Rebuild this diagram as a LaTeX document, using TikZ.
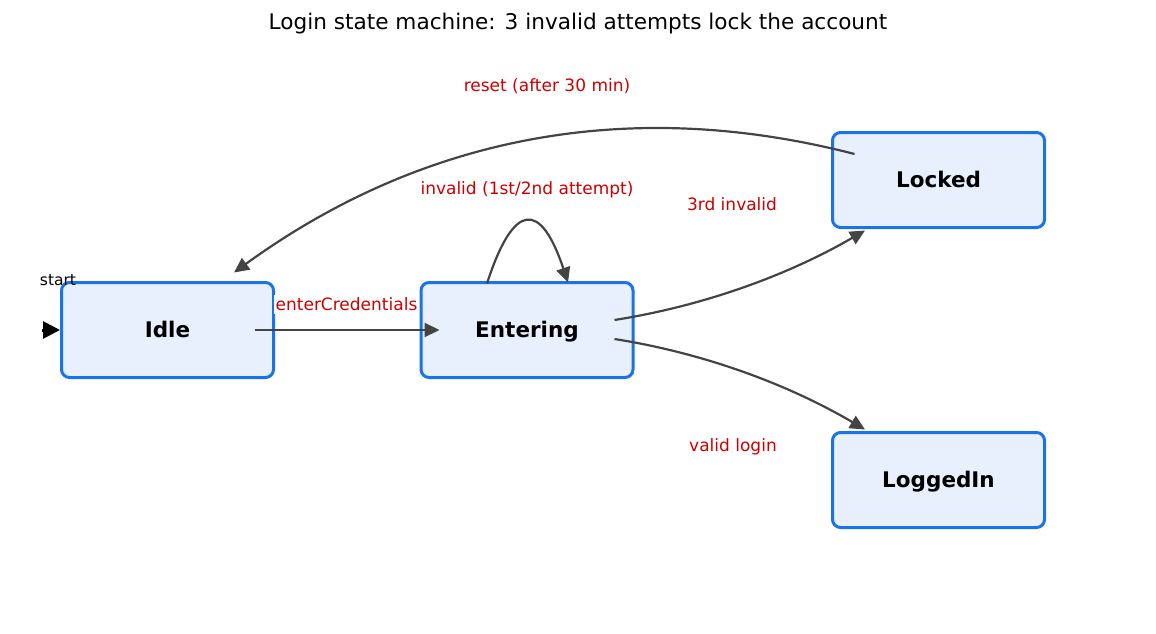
\documentclass[tikz,border=0pt]{standalone}
\usepackage{fontspec}
\setmainfont{DejaVu Sans}
\usetikzlibrary{arrows.meta}
\definecolor{boxblue}{HTML}{1A73E8}
\definecolor{boxfill}{HTML}{E8F0FE}
\definecolor{edgegray}{HTML}{444444}
\definecolor{labelred}{HTML}{CC0000}
\tikzset{
  state/.style={draw=boxblue, fill=boxfill, line width=3pt, rounded corners=8pt,
    minimum width=212pt, minimum height=95pt, inner sep=0pt,
    font=\fontsize{21.5}{26}\selectfont\bfseries, text height=15.7pt, text depth=0pt},
  edge/.style={draw=edgegray, line width=2.2pt, -{Triangle[length=15pt,width=14pt]}},
  elabel/.style={text=labelred, font=\fontsize{17}{20}\selectfont, anchor=base, inner sep=0pt},
  titlelabel/.style={font=\fontsize{21.6}{26}\selectfont, anchor=base, inner sep=0pt},
}
\begin{document}
\begin{tikzpicture}[x=1pt,y=-1pt]
\useasboundingbox (0,0) rectangle (1156,634);
% title
\node[titlelabel] (title) at (578,30) {Login state machine: 3 invalid attempts lock the account};
% states
\node[state] (idle) at (167.5,330) {Idle};
\node[state] (entering) at (527,330) {Entering};
\node[state] (locked) at (938.5,180) {Locked};
\node[state] (loggedin) at (938.5,480) {LoggedIn};
% start
\coordinate (startpt) at (42,330);
\draw[line width=3pt, -{Triangle[length=17pt,width=17pt]}] (startpt) -- (idle.west);
\node[font=\fontsize{15.5}{18}\selectfont, anchor=base, inner sep=0pt] (startlabel) at (58,285.5) {start};
% edges
\draw[edge] ([xshift=-20.5]idle.east) -- ([xshift=20]entering.west);
\draw[edge] ([shift={(-40,2.5)}]entering.north) .. controls (513.7,201) and (540.7,200.7) .. ([shift={(41,1.5)}]entering.north);
\draw[edge] ([shift={(-20,-10)}]entering.east) .. controls (703,306) and (787,275.7) .. ([shift={(-73.5,1.5)}]locked.south);
\draw[edge] ([shift={(-20,9)}]entering.east) .. controls (703,353) and (787,383.7) .. ([shift={(-73.5,-1.5)}]loggedin.north);
\draw[edge] ([shift={(23.5,-26)}]locked.west) .. controls (629.7,96) and (422.3,136) .. ([shift={(66.5,-8.5)}]idle.north);
% labels
\node[elabel] (lreset) at (547,91) {reset (after 30 min)};
\node[elabel] (linvalid) at (527,194) {invalid (1st/2nd attempt)};
\node[elabel] (l3rd) at (732,210) {3rd invalid};
\node[elabel] (lvalid) at (733,451.5) {valid login};
\node[elabel, fill=white, inner xsep=1.5pt, inner ysep=3pt] (lenter) at (346.5,310.5) {enterCredentials};
\end{tikzpicture}
\end{document}
